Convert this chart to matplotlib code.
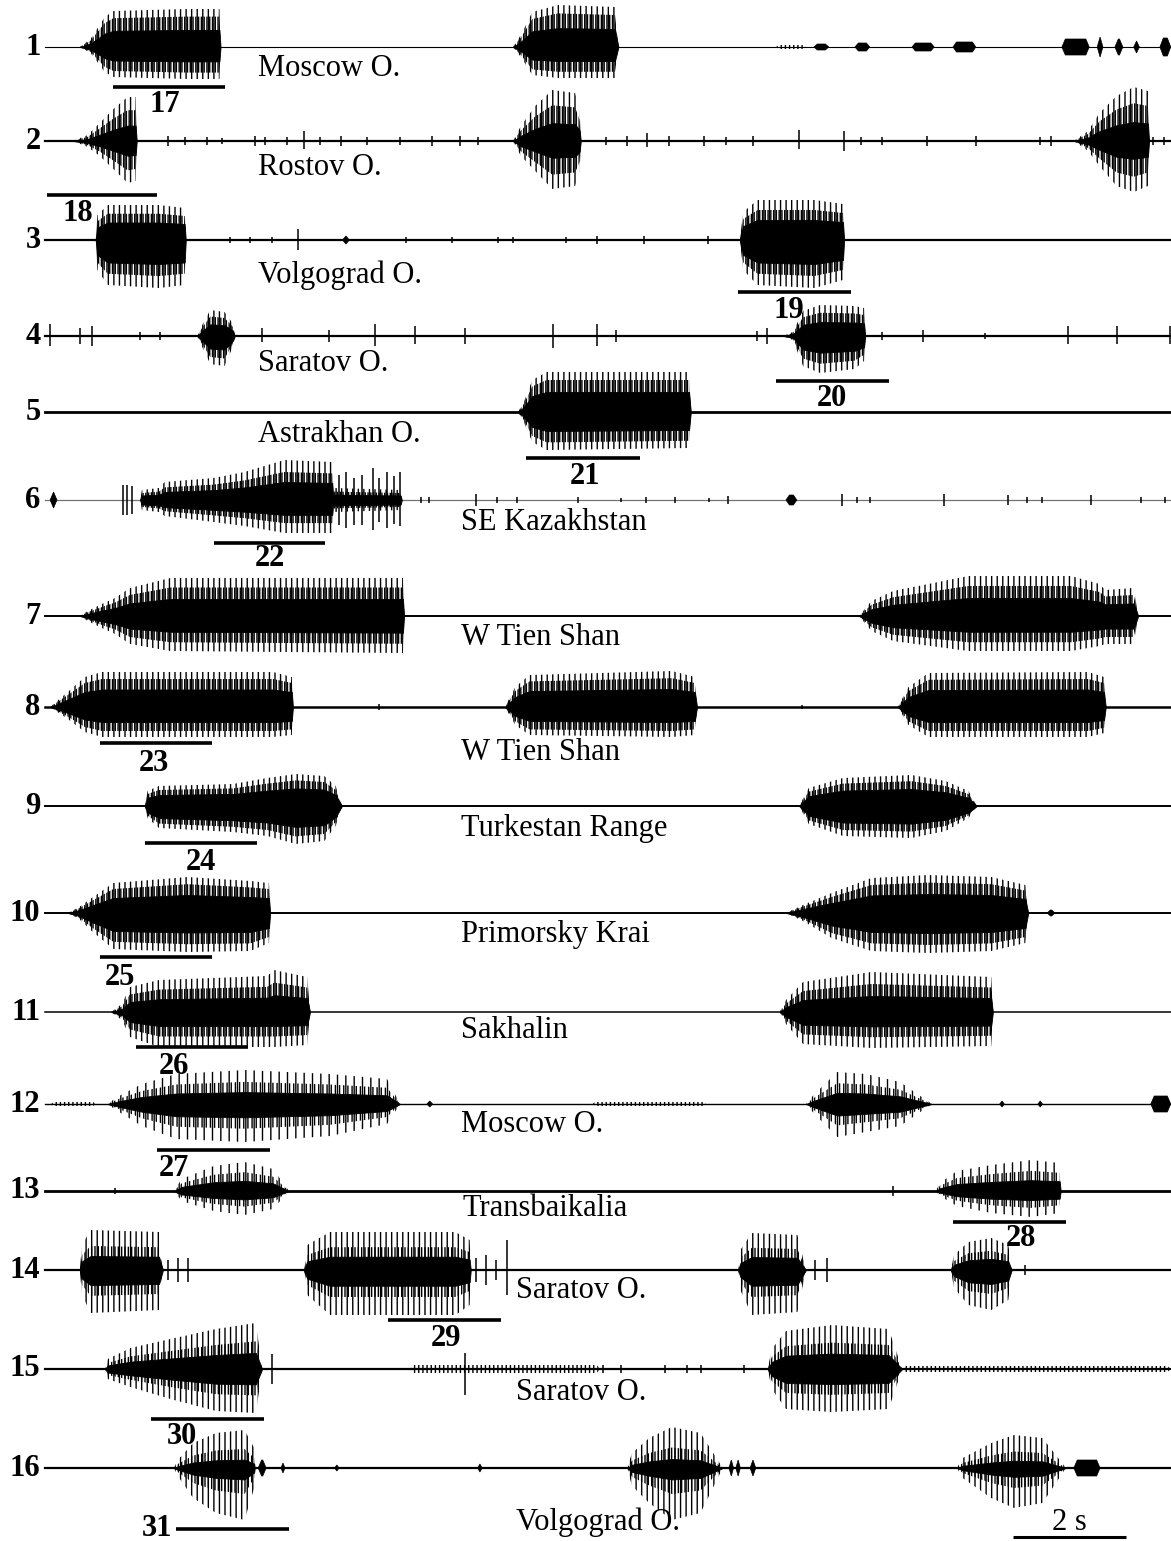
import matplotlib.pyplot as plt
import numpy as np

plt.rcParams['font.family'] = ['Liberation Serif', 'DejaVu Serif']
plt.rcParams['hatch.linewidth'] = 1.0
plt.rcParams['hatch.color'] = 'black'

# oscillogram tracks 1..16, time in seconds, amplitudes in page pixels
track_ids = list(range(1, 17))
sites = ['Moscow O.', 'Rostov O.', 'Volgograd O.', 'Saratov O.', 'Astrakhan O.',
         'SE Kazakhstan', 'W Tien Shan', 'W Tien Shan', 'Turkestan Range',
         'Primorsky Krai', 'Sakhalin', 'Moscow O.', 'Transbaikalia',
         'Saratov O.', 'Saratov O.', 'Volgograd O.']

# song bursts: envelope knots (t, upper amp, lower amp)
bursts01 = [[(0.61, 0, 0), (0.80, 8, 6), (1.05, 30, 25), (1.20, 36, 30), (2.5, 38, 32), (3.06, 38, 32), (3.08, 0, 0)],
            [(8.21, 0, 0), (8.35, 12, 10), (8.55, 35, 28), (9.0, 42, 31), (10.0, 40, 31), (10.06, 0, 0)]]
bursts02 = [[(0.49, 0, 0), (0.75, 6, 6), (0.96, 18, 15), (1.2, 32, 28), (1.45, 44, 42), (1.59, 44, 40), (1.61, 0, 0)],
            [(8.21, 0, 0), (8.35, 15, 15), (8.6, 35, 30), (8.9, 51, 48), (9.3, 48, 45), (9.38, 30, 30), (9.40, 0, 0)],
            [(18.05, 0, 0), (18.3, 10, 10), (18.5, 28, 25), (18.8, 45, 45), (19.1, 54, 51), (19.35, 50, 45), (19.37, 0, 0)]]
bursts03 = [[(0.89, 0, 0), (0.92, 25, 30), (1.1, 35, 45), (2.0, 35, 48), (2.45, 32, 45), (2.47, 0, 0)],
            [(12.19, 0, 0), (12.25, 28, 30), (12.5, 40, 45), (13.5, 40, 48), (14.0, 36, 40), (14.02, 0, 0)]]
bursts04 = [[(2.67, 0, 0), (2.75, 10, 10), (2.9, 26, 28), (3.15, 24, 30), (3.30, 12, 10), (3.33, 0, 0)],
            [(12.95, 0, 0), (13.12, 4, 4), (13.3, 25, 30), (13.6, 31, 37), (14.2, 30, 33), (14.37, 28, 25), (14.39, 0, 0)]]
bursts05 = [[(8.30, 0, 0), (8.40, 10, 10), (8.55, 32, 30), (8.8, 40, 38), (11.3, 40, 36), (11.33, 0, 0)]]
bursts06 = [[(1.67, 0, 0), (1.70, 10, 10), (2.0, 12, 12), (2.1, 18, 16), (2.96, 22, 22), (3.5, 28, 26),
             (4.2, 40, 33), (5.04, 38, 33), (5.06, 0, 0)],
            [(5.04, 0, 0), (5.06, 12, 12), (6.24, 10, 10), (6.26, 0, 0)]]
bursts07 = [[(0.61, 0, 0), (0.75, 5, 5), (1.0, 12, 12), (1.23, 18, 18), (1.49, 28, 28), (2.2, 38, 35), (6.28, 38, 37), (6.30, 0, 0)],
            [(14.28, 0, 0), (14.5, 15, 15), (14.88, 25, 25), (16.2, 40, 35), (18.0, 40, 35), (18.5, 32, 30),
             (18.6, 26, 28), (19.1, 28, 28), (19.18, 0, 0)]]
bursts08 = [[(0.09, 0, 0), (0.4, 15, 12), (0.7, 30, 25), (1.0, 35, 30), (4.0, 35, 30), (4.33, 30, 28), (4.35, 0, 0)],
            [(8.07, 0, 0), (8.25, 20, 18), (8.5, 32, 28), (11.0, 36, 30), (11.4, 30, 28), (11.44, 0, 0)],
            [(14.96, 0, 0), (15.15, 20, 18), (15.5, 34, 30), (18.3, 35, 30), (18.58, 30, 26), (18.61, 0, 0)]]
bursts09 = [[(1.75, 0, 0), (1.80, 15, 12), (2.0, 20, 22), (3.3, 22, 26), (3.9, 28, 30), (4.4, 32, 38), (4.9, 30, 35),
             (5.1, 20, 20), (5.21, 0, 0)],
            [(13.23, 0, 0), (13.4, 18, 18), (14.0, 28, 30), (15.2, 31, 32), (15.8, 25, 25), (16.2, 15, 12), (16.35, 0, 0)]]
bursts10 = [[(0.40, 0, 0), (0.6, 6, 6), (0.82, 15, 18), (1.2, 30, 36), (2.5, 36, 39), (3.6, 32, 38), (3.93, 30, 30), (3.95, 0, 0)],
            [(13.0, 0, 0), (13.3, 8, 8), (13.8, 20, 25), (14.5, 35, 38), (15.5, 38, 40), (16.6, 36, 38), (17.2, 28, 30), (17.25, 0, 0)]]
bursts11 = [[(1.16, 0, 0), (1.35, 8, 8), (1.49, 25, 25), (2.0, 32, 35), (3.9, 36, 35), (4.02, 42, 35), (4.6, 35, 33), (4.65, 0, 0)],
            [(12.89, 0, 0), (13.0, 12, 12), (13.3, 30, 32), (14.5, 40, 36), (16.6, 35, 34), (16.63, 0, 0)]]
bursts12 = [[(1.09, 0, 0), (1.3, 8, 8), (1.7, 20, 22), (2.3, 30, 35), (3.5, 34, 38), (5.0, 30, 32), (6.0, 25, 20), (6.23, 0, 0)],
            [(13.35, 0, 0), (13.5, 10, 10), (13.9, 32, 33), (14.4, 30, 28), (15.0, 22, 22), (15.56, 0, 0)]]
bursts13 = [[(2.26, 0, 0), (2.4, 12, 10), (2.96, 25, 20), (3.5, 29, 24), (4.0, 22, 18), (4.28, 0, 0)],
            [(15.63, 0, 0), (15.7, 8, 5), (16.0, 20, 15), (16.6, 26, 22), (17.3, 31, 26), (17.8, 28, 22), (17.82, 0, 0)]]
bursts14 = [[(0.61, 0, 0), (0.65, 25, 25), (0.8, 40, 43), (2.0, 38, 40), (2.07, 0, 0)],
            [(4.54, 0, 0), (4.6, 25, 25), (5.0, 38, 45), (7.2, 38, 45), (7.45, 30, 35), (7.47, 0, 0)],
            [(12.16, 0, 0), (12.2, 20, 20), (12.4, 37, 45), (13.2, 35, 42), (13.35, 0, 0)],
            [(15.89, 0, 0), (15.95, 15, 18), (16.2, 28, 35), (16.6, 32, 40), (16.9, 25, 30), (16.96, 0, 0)]]
bursts15 = [[(1.05, 0, 0), (1.1, 10, 10), (1.5, 21, 18), (2.2, 30, 30), (3.0, 40, 42), (3.7, 46, 44), (3.81, 0, 0)],
            [(12.68, 0, 0), (12.75, 20, 20), (13.0, 38, 40), (13.8, 44, 43), (14.8, 40, 40), (15.04, 0, 0)]]
bursts16 = [[(2.26, 0, 0), (2.33, 8, 8), (2.6, 25, 30), (3.0, 35, 45), (3.5, 38, 52), (3.67, 20, 20), (3.68, 0, 0)],
            [(10.21, 0, 0), (10.3, 15, 18), (10.6, 30, 35), (11.0, 41, 52), (11.5, 35, 45), (11.89, 0, 0)],
            [(16.0, 0, 0), (16.1, 10, 10), (16.6, 25, 30), (17.0, 33, 40), (17.5, 30, 35), (17.91, 0, 0)]]

# isolated clicks / spikes: (t, upper amp, lower amp)
clicks02 = [(2.16, 5, 5), (2.46, 4, 4), (2.84, 4, 4), (3.11, 3, 3), (3.68, 5, 5), (3.86, 4, 4), (4.25, 4, 4),
            (4.54, 10, 8), (4.82, 4, 4), (5.19, 5, 5), (5.65, 4, 4), (6.23, 4, 4), (6.79, 5, 5), (7.28, 5, 5),
            (7.60, 4, 4), (9.84, 4, 4), (10.21, 5, 5), (10.56, 8, 6), (10.95, 5, 5), (11.56, 5, 5), (11.95, 4, 4),
            (12.42, 5, 5), (13.23, 11, 8), (14.02, 10, 10), (14.32, 4, 4), (14.68, 4, 4), (15.47, 5, 5),
            (16.33, 5, 5), (17.46, 4, 4), (17.65, 5, 5), (19.44, 4, 4), (19.63, 4, 4)]
clicks03 = [(3.25, 3, 3), (3.60, 3, 3), (3.98, 3, 3), (4.44, 11, 10), (6.33, 3, 3), (7.14, 3, 3), (7.95, 3, 3),
            (8.21, 3, 3), (9.14, 3, 3), (9.68, 4, 4), (10.51, 4, 4), (11.63, 4, 4)]
clicks04 = [(0.09, 12, 10), (0.61, 8, 8), (0.82, 10, 10), (1.67, 4, 4), (2.02, 4, 4), (3.81, 8, 6), (4.98, 6, 6),
            (5.79, 12, 10), (6.49, 10, 8), (7.37, 8, 8), (8.91, 12, 12), (9.68, 12, 10), (10.02, 6, 6),
            (12.49, 5, 5), (12.67, 8, 8), (14.68, 4, 4), (15.40, 6, 6), (16.49, 3, 3), (17.95, 10, 8),
            (18.81, 10, 8), (19.74, 10, 8)]
clicks06 = [(1.37, 15, 15), (1.44, 15, 15), (1.52, 14, 14), (5.16, 25, 25), (5.28, 28, 28), (5.42, 22, 25),
            (5.56, 25, 25), (5.75, 32, 30), (5.86, 22, 22), (6.00, 28, 28), (6.12, 24, 24), (6.23, 28, 26),
            (6.60, 3, 3), (6.74, 3, 3), (7.56, 6, 6), (7.93, 3, 3), (8.28, 3, 3), (9.35, 3, 3), (10.11, 2, 2),
            (10.54, 3, 3), (11.05, 3, 3), (11.65, 2, 2), (11.98, 4, 4), (13.98, 6, 6), (14.25, 3, 3),
            (14.47, 3, 3), (15.77, 6, 6), (16.89, 5, 5), (17.23, 3, 3), (17.49, 3, 3), (18.35, 5, 5),
            (19.23, 3, 3), (19.65, 3, 3)]
clicks08 = [(5.86, 3, 3), (13.28, 2, 2)]
clicks13 = [(1.23, 3, 3), (14.88, 5, 5)]
clicks14 = [(2.16, 10, 10), (2.33, 12, 12), (2.51, 12, 12), (7.56, 12, 12), (7.74, 15, 15), (7.91, 10, 10),
            (8.11, 30, 25), (13.51, 10, 10), (13.72, 12, 12), (17.19, 5, 5)]
clicks15 = [(3.98, 15, 15), (7.37, 16, 26), (9.79, 4, 4), (10.11, 4, 4), (10.88, 4, 4), (11.26, 4, 4),
            (11.51, 4, 4), (12.26, 4, 4)]

# small noise blobs: (t start, t end, amp)
blobs01 = [(12.82, 13.35, 2), (13.49, 13.75, 3), (14.21, 14.47, 4), (15.21, 15.60, 4), (15.93, 16.33, 5),
           (17.84, 18.32, 8), (18.46, 18.56, 10), (18.77, 18.91, 8), (19.10, 19.20, 6), (19.56, 19.75, 9)]
blobs03 = [(5.22, 5.34, 4)]
blobs06 = [(0.09, 0.21, 8), (13.0, 13.19, 5)]
blobs10 = [(17.58, 17.72, 3)]
blobs12 = [(0.1, 0.9, 2), (6.70, 6.80, 3), (9.6, 11.6, 2), (16.75, 16.83, 3), (17.42, 17.50, 3), (19.40, 19.75, 8)]
blobs15 = [(6.40, 9.74, 4), (15.04, 19.75, 3)]
blobs16 = [(3.74, 3.88, 8), (4.14, 4.21, 5), (5.08, 5.16, 3), (7.59, 7.67, 4), (12.00, 12.08, 8),
           (12.12, 12.20, 8), (12.37, 12.47, 8), (18.05, 18.51, 8)]

# fragment bars (figure number, track, start s, end s)
frag_nums = [17, 18, 19, 20, 21, 22, 23, 24, 25, 26, 27, 28, 29, 30, 31]
frag_track = [1, 2, 3, 4, 5, 6, 8, 9, 10, 11, 12, 13, 14, 15, 16]
frag_start = [1.19, 0.04, 12.16, 12.82, 8.44, 2.96, 0.96, 1.75, 0.96, 1.60, 1.96, 15.93, 6.02, 1.86, 2.30]
frag_end = [3.16, 1.96, 14.14, 14.81, 10.44, 4.91, 2.93, 3.72, 2.93, 3.56, 3.95, 17.91, 8.00, 3.84, 4.28]
scale_start, scale_end = 16.98, 18.96

# ---- layout (page pixels) ----
base_y = [47, 141, 240, 336, 412, 500, 616, 707, 806, 913, 1012, 1104, 1191, 1270, 1369, 1468]
line_w = [0.8, 1.6, 1.6, 1.6, 2.0, 0.9, 1.4, 1.8, 1.4, 1.4, 1.1, 1.0, 2.0, 1.6, 1.6, 1.6]
line_c = ['black'] * 5 + ['0.45'] + ['black'] * 10
core = [0.45, 0.35, 0.5, 0.45, 0.5, 0.45, 0.45, 0.5, 0.55, 0.5, 0.4, 0.35, 0.35, 0.35, 0.35, 0.22]
mid = [0.8, 0.7, 0.75, 0.75, 0.8, 0.7, 0.75, 0.8, 0.8, 0.8, 0.7, 0.65, 0.65, 0.6, 0.6, 0.5]
outer_hatch = ['|||'] * 11 + ['||', '||'] + ['|||'] * 3
mid_hatch = ['||||||'] * 11 + ['||||', '||||'] + ['|||||'] * 3
site_x = [3.74] * 5 + [7.30] * 7 + [7.33] + [8.26] * 3
site_y = [68, 167, 275, 363, 434, 522, 637, 752, 828, 934, 1030, 1125, 1209, 1290, 1393, 1522]
frag_y = [87, 195, 292, 381, 458, 543, 743, 843, 957, 1047, 1150, 1222, 1320, 1419, 1529]
frag_lx = [2.11, 0.58, 13.05, 13.81, 9.47, 3.95, 1.91, 2.74, 1.32, 2.26, 2.26, 17.12, 7.04, 2.40, 2.23]
frag_ly = [104, 213, 310, 398, 476, 558, 763, 862, 977, 1067, 1168, 1238, 1338, 1437, 1529]

all_bursts = [bursts01, bursts02, bursts03, bursts04, bursts05, bursts06, bursts07, bursts08,
              bursts09, bursts10, bursts11, bursts12, bursts13, bursts14, bursts15, bursts16]
all_clicks = [[], clicks02, clicks03, clicks04, [], clicks06, [], clicks08,
              [], [], [], [], clicks13, clicks14, clicks15, []]
all_blobs = [blobs01, [], blobs03, [], [], blobs06, [], [], [], blobs10, [], blobs12, [], [], blobs15, blobs16]

fig = plt.figure(figsize=(11.71, 15.41), dpi=100)
ax = fig.add_axes([0, 0, 1, 1])
ax.set_xlim(-45 / 57, 1126 / 57)
ax.set_ylim(1541, 0)
ax.axis('off')

fs = 22
for i, tid in enumerate(track_ids):
    y0 = base_y[i]
    ax.plot([0, 19.75], [y0, y0], color=line_c[i], lw=line_w[i], zorder=1)
    ax.text(-0.08, y0, str(tid), ha='right', va='center', fontsize=fs, fontweight='bold')
    ax.text(site_x[i], site_y[i], sites[i], ha='left', va='center', fontsize=fs)

    for knots in all_bursts[i]:
        k = np.array(knots, dtype=float)
        t, up, dn = k[:, 0], k[:, 1], k[:, 2]
        # outer spikes, denser middle band, solid core
        ax.fill_between(t, y0 - up, y0 + dn, facecolor='none', edgecolor='black',
                        hatch=outer_hatch[i], linewidth=0, zorder=2)
        ax.fill_between(t, y0 - up * mid[i], y0 + dn * mid[i], facecolor='none', edgecolor='black',
                        hatch=mid_hatch[i], linewidth=0, zorder=2)
        ax.fill_between(t, y0 - up * core[i], y0 + dn * core[i], color='black',
                        linewidth=0.6, zorder=3)

    for t, up, dn in all_clicks[i]:
        ax.vlines(t, y0 - up, y0 + dn, color='black', lw=1.1, zorder=3)

    for t0, t1, a in all_blobs[i]:
        w = min(0.06, (t1 - t0) / 2)
        xs = [t0, t0 + w, t1 - w, t1, t1 - w, t0 + w]
        ys = [y0, y0 - a, y0 - a, y0, y0 + a, y0 + a]
        if t1 - t0 > 0.5:
            # long stretches of low noise: fuzzy, not solid
            ax.fill(xs, ys, facecolor='none', edgecolor='black', hatch='||||', lw=0, zorder=3)
        else:
            ax.fill(xs, ys, color='black', lw=0.5, zorder=3)

for n, tr, s, e, by, lx, ly in zip(frag_nums, frag_track, frag_start, frag_end, frag_y, frag_lx, frag_ly):
    ax.plot([s, e], [by, by], color='black', lw=2.6, solid_capstyle='butt')
    ha = 'right' if n == 31 else 'center'
    ax.text(lx, ly, str(n), ha=ha, va='center', fontsize=fs, fontweight='bold')

ax.plot([scale_start, scale_end], [1537, 1537], color='black', lw=2.2, solid_capstyle='butt')
ax.text((scale_start + scale_end) / 2, 1522, '2 s', ha='center', va='center', fontsize=fs)

fig.savefig('out.png', dpi=100)
